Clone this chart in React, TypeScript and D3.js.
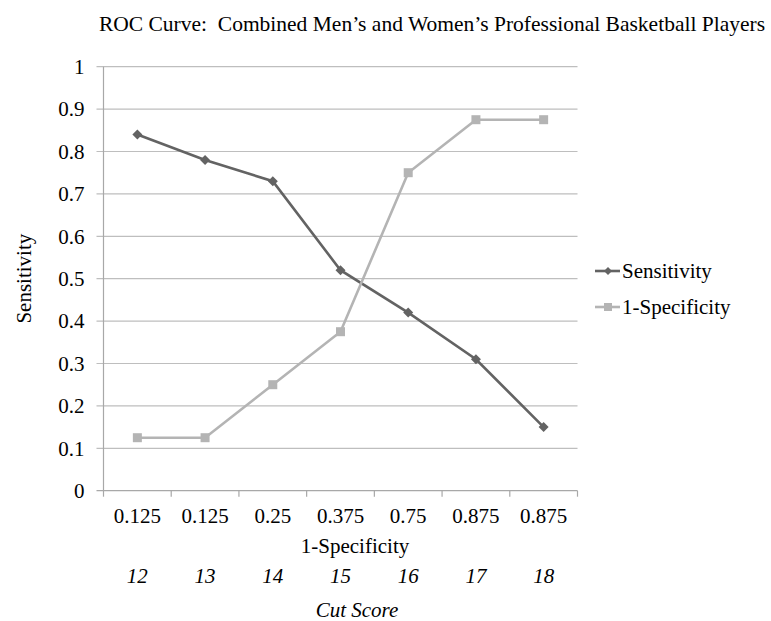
import { useEffect, useRef } from 'react';
import * as d3 from 'd3';

const specLabels = ['0.125', '0.125', '0.25', '0.375', '0.75', '0.875', '0.875'];
const cutScores = ['12', '13', '14', '15', '16', '17', '18'];
const sensitivity = [0.84, 0.78, 0.73, 0.52, 0.42, 0.31, 0.15];
const oneMinusSpec = [0.125, 0.125, 0.25, 0.375, 0.75, 0.875, 0.875];
const yTicks = [0, 0.1, 0.2, 0.3, 0.4, 0.5, 0.6, 0.7, 0.8, 0.9, 1];

const series = [
    { name: 'Sensitivity', values: sensitivity, color: '#636363', marker: 'diamond' },
    { name: '1-Specificity', values: oneMinusSpec, color: '#b4b4b4', marker: 'square' },
];

const W = 771;
const H = 621;
const FONT = '"Liberation Serif", "Times New Roman", serif';
const FS = 21;

export default function App() {
    const svgRef = useRef<SVGSVGElement>(null);

    useEffect(() => {
        if (!svgRef.current) return;
        const svg = d3.select(svgRef.current);
        svg.selectAll('*').remove();

        const left = 103.5, right = 577.5, top = 66.7, bottom = 490.7;

        const x = d3.scaleBand<number>().domain(d3.range(specLabels.length)).range([left, right]);
        const y = d3.scaleLinear().domain([0, 1]).range([bottom, top]);
        const cx = (i: number) => (x(i) as number) + x.bandwidth() / 2;

        // grille
        svg.append('g')
            .selectAll('line')
            .data(yTicks.filter(t => t > 0))
            .enter().append('line')
            .attr('x1', left - 7).attr('x2', right)
            .attr('y1', d => y(d)).attr('y2', d => y(d))
            .attr('stroke', '#bebebe').attr('stroke-width', 1.2);

        // axes
        svg.append('line')
            .attr('x1', left).attr('x2', left).attr('y1', top).attr('y2', bottom)
            .attr('stroke', '#a8a8a8').attr('stroke-width', 1.2);
        svg.append('line')
            .attr('x1', left - 7).attr('x2', right).attr('y1', bottom).attr('y2', bottom)
            .attr('stroke', '#a8a8a8').attr('stroke-width', 1.2);

        // ticks x
        svg.append('g')
            .selectAll('line')
            .data(d3.range(specLabels.length + 1))
            .enter().append('line')
            .attr('x1', d => left + d * x.bandwidth()).attr('x2', d => left + d * x.bandwidth())
            .attr('y1', bottom).attr('y2', bottom + 6)
            .attr('stroke', '#a8a8a8').attr('stroke-width', 1.2);

        // labels y
        svg.append('g')
            .selectAll('text')
            .data(yTicks)
            .enter().append('text')
            .attr('x', left - 19)
            .attr('y', d => y(d))
            .attr('dy', '0.35em')
            .attr('text-anchor', 'end')
            .attr('font-family', FONT).attr('font-size', FS)
            .text(d => d3.format('')(+d.toFixed(1)));

        // labels x
        svg.append('g')
            .selectAll('text')
            .data(specLabels)
            .enter().append('text')
            .attr('x', (_, i) => cx(i))
            .attr('y', 523)
            .attr('text-anchor', 'middle')
            .attr('font-family', FONT).attr('font-size', FS)
            .text(d => d);

        svg.append('g')
            .selectAll('text')
            .data(cutScores)
            .enter().append('text')
            .attr('x', (_, i) => cx(i))
            .attr('y', 583)
            .attr('text-anchor', 'middle')
            .attr('font-family', FONT).attr('font-size', FS).attr('font-style', 'italic')
            .text(d => d);

        svg.append('text')
            .attr('x', 355).attr('y', 553)
            .attr('text-anchor', 'middle')
            .attr('font-family', FONT).attr('font-size', FS)
            .text('1-Specificity');

        svg.append('text')
            .attr('x', 357).attr('y', 617)
            .attr('text-anchor', 'middle')
            .attr('font-family', FONT).attr('font-size', FS).attr('font-style', 'italic')
            .text('Cut Score');

        svg.append('text')
            .attr('transform', `translate(31,${(top + bottom) / 2}) rotate(-90)`)
            .attr('text-anchor', 'middle')
            .attr('font-family', FONT).attr('font-size', FS)
            .text('Sensitivity');

        svg.append('text')
            .attr('x', 432).attr('y', 31)
            .attr('text-anchor', 'middle')
            .attr('font-family', FONT).attr('font-size', 21.5)
            .text('ROC Curve:\u00a0 Combined Men\u2019s and Women\u2019s Professional Basketball Players');

        const diamond = (s: number) => `M0,${-s}L${s},0L0,${s}L${-s},0Z`;
        const square = (s: number) => `M${-s},${-s}H${s}V${s}H${-s}Z`;
        const markerPath = (m: string, s: number) => (m === 'diamond' ? diamond(s) : square(s));

        const line = d3.line<number>()
            .x((_, i) => cx(i))
            .y(d => y(d));

        series.forEach(s => {
            svg.append('path')
                .datum(s.values)
                .attr('fill', 'none')
                .attr('stroke', s.color)
                .attr('stroke-width', 2.6)
                .attr('d', line);
            svg.append('g')
                .selectAll('path')
                .data(s.values)
                .enter().append('path')
                .attr('transform', (d, i) => `translate(${cx(i)},${y(d)})`)
                .attr('d', markerPath(s.marker, s.marker === 'diamond' ? 5 : 4.5))
                .attr('fill', s.color);
        });

        // légende
        const legend = svg.append('g');
        series.forEach((s, i) => {
            const ly = 271 + i * 36;
            legend.append('line')
                .attr('x1', 595).attr('x2', 620).attr('y1', ly).attr('y2', ly)
                .attr('stroke', s.color).attr('stroke-width', 2.6);
            legend.append('path')
                .attr('transform', `translate(608,${ly})`)
                .attr('d', markerPath(s.marker, 4))
                .attr('fill', s.color);
            legend.append('text')
                .attr('x', 622).attr('y', ly).attr('dy', '0.35em')
                .attr('font-family', FONT).attr('font-size', FS)
                .text(s.name);
        });
    }, []);

    return (
        <div style={{ position: 'fixed', left: 0, top: 0, width: W, height: H, overflow: 'hidden' }}>
            <svg ref={svgRef} width={W} height={H} style={{ display: 'block', background: '#fff' }} />
        </div>
    );
}
